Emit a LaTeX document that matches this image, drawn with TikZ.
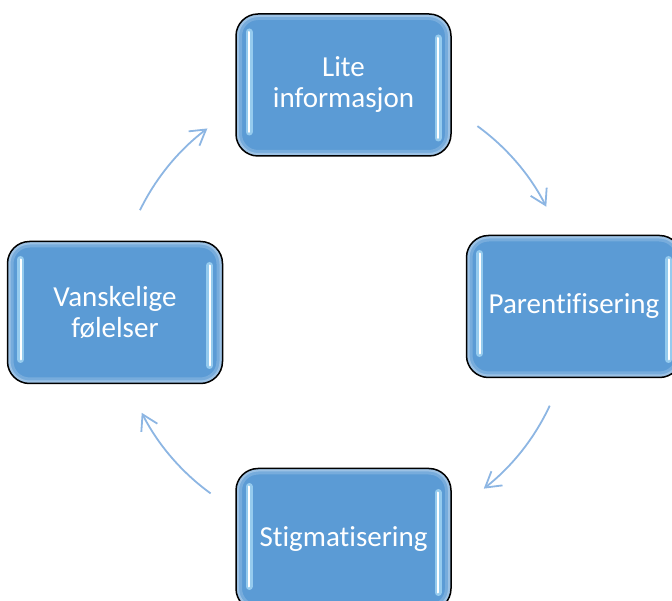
\documentclass[tikz,border=0pt]{standalone}
\usepackage{fontspec}
\usepackage{tikz}
\usetikzlibrary{positioning,calc,arrows.meta}
\newfontfamily\boxfont[Ligatures=NoCommon]{Carlito}
\definecolor{boxblue}{HTML}{5B9BD5}
\definecolor{arrowblue}{HTML}{8DB6E3}
\definecolor{glowblue}{HTML}{BDEBFF}
\pgfmathsetmacro{\cycleradius}{227}

\tikzset{
    cyclebox/.style={
        draw=black, line width=1.5pt, rounded corners=22pt, fill=boxblue,
        text=white, align=center, minimum width=215pt, minimum height=142pt,
        font={\boxfont\fontsize{29}{31}\selectfont},
        path picture={
            % soft inner rim
            \draw[boxblue!50!white, line width=12pt, rounded corners=22pt, opacity=0.35]
                (path picture bounding box.south west) rectangle (path picture bounding box.north east);
            \draw[boxblue!45!white, line width=6pt, rounded corners=22pt, opacity=0.6]
                (path picture bounding box.south west) rectangle (path picture bounding box.north east);
            % glossy side bars
            \draw[glowblue, line width=7pt, opacity=0.6, line cap=round]
                ([shift={(13pt,24pt)}]path picture bounding box.south west)
                -- ([shift={(13pt,-18pt)}]path picture bounding box.north west);
            \draw[white, line width=2pt, line cap=round]
                ([shift={(13pt,24pt)}]path picture bounding box.south west)
                -- ([shift={(13pt,-18pt)}]path picture bounding box.north west);
            \draw[glowblue, line width=7pt, opacity=0.6, line cap=round]
                ([shift={(-13pt,18pt)}]path picture bounding box.south east)
                -- ([shift={(-13pt,-24pt)}]path picture bounding box.north east);
            \draw[white, line width=2pt, line cap=round]
                ([shift={(-13pt,18pt)}]path picture bounding box.south east)
                -- ([shift={(-13pt,-24pt)}]path picture bounding box.north east);
        }
    },
    cyclearrow/.style={
        draw=arrowblue, line width=1.8pt,
        -{Straight Barb[length=15pt, width=18pt, line width=1.8pt]}
    }
}

\begin{document}
\begin{tikzpicture}[x=1pt, y=1pt]
    \useasboundingbox (0,0) rectangle (672,600);
    \clip (0,0) rectangle (672,600);
    % define nodes
    \node[cyclebox] (lite) at (343.5,515) {Lite\\informasjon};
    \node[cyclebox, below right=78pt and 14pt of lite] (parent) {Parentifisering};
    \node[cyclebox, below=311pt of lite] (stigma) {Stigmatisering};
    \node[cyclebox, below left=84pt and 12pt of lite] (vansk) {Vanskelige\\følelser};
    % centre of the cycle
    \coordinate (mid) at ($(lite)!0.5!(stigma)+(0.5,2.5)$);
    % draw arrows
    \draw[cyclearrow] ([shift={(54:\cycleradius)}]mid) arc[start angle=54, end angle=27, radius=\cycleradius];
    \draw[cyclearrow] ([shift={(-25:\cycleradius)}]mid) arc[start angle=-25, end angle=-52, radius=\cycleradius];
    \draw[cyclearrow] ([shift={(-126:\cycleradius)}]mid) arc[start angle=-126, end angle=-153, radius=\cycleradius];
    \draw[cyclearrow] ([shift={(154:\cycleradius)}]mid) arc[start angle=154, end angle=127, radius=\cycleradius];
\end{tikzpicture}
\end{document}
